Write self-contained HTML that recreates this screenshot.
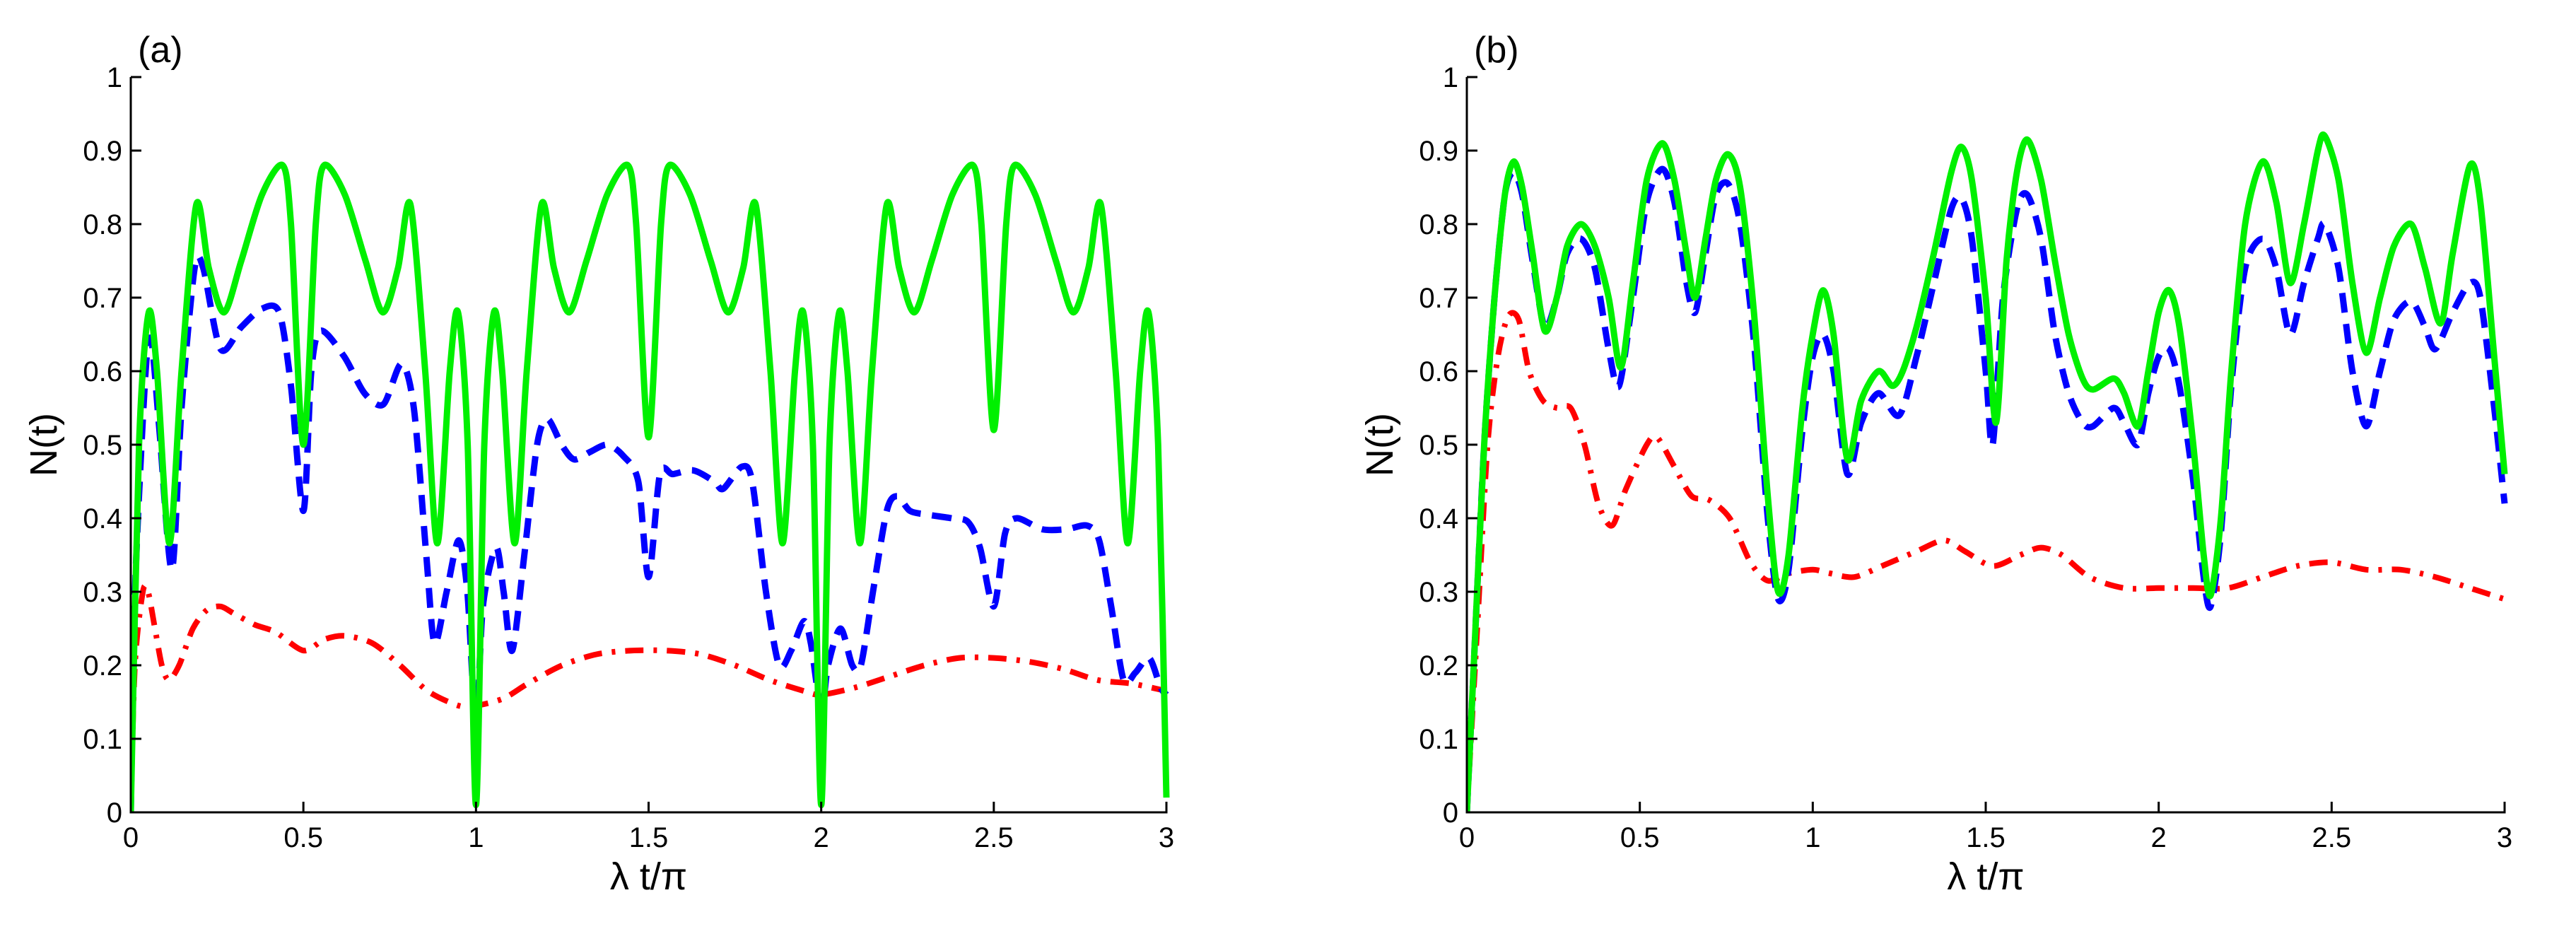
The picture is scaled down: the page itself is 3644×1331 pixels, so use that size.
<!DOCTYPE html>
<html><head><meta charset="utf-8"><style>
html,body{margin:0;padding:0;background:#fff;}
svg{display:block;font-family:"Liberation Sans",sans-serif;}
</style></head><body>
<svg id="fig" width="3644" height="1331" viewBox="0 0 3644 1331" xmlns="http://www.w3.org/2000/svg"></svg>
<script>
const xTicks=[0,0.5,1,1.5,2,2.5,3];
const xTickLabels=["0","0.5","1","1.5","2","2.5","3"];
const yTicks=[0,0.1,0.2,0.3,0.4,0.5,0.6,0.7,0.8,0.9,1];
const yTickLabels=["0","0.1","0.2","0.3","0.4","0.5","0.6","0.7","0.8","0.9","1"];

const aGreenT=[0,0.024,0.052,0.076,0.112,0.147,0.19,0.226,0.27,0.32,0.38,0.44,0.464,0.5,0.536,0.56,0.62,0.68,0.73,0.774,0.81,0.853,0.888,0.924,0.948,0.976,1.0,1.024,1.052,1.076,1.112,1.147,1.19,1.226,1.27,1.32,1.38,1.44,1.464,1.5,1.536,1.56,1.62,1.68,1.73,1.774,1.81,1.853,1.888,1.924,1.948,1.976,2.0,2.024,2.052,2.076,2.112,2.147,2.19,2.226,2.27,2.32,2.38,2.44,2.464,2.5,2.536,2.56,2.62,2.68,2.73,2.774,2.81,2.853,2.888,2.924,2.948,2.976,3.0];
const aGreenN=[0,0.5,0.68,0.6,0.366,0.6,0.827,0.74,0.68,0.75,0.84,0.88,0.8,0.5,0.8,0.88,0.84,0.75,0.68,0.74,0.827,0.6,0.366,0.6,0.68,0.5,0.01,0.5,0.68,0.6,0.366,0.6,0.827,0.74,0.68,0.75,0.84,0.88,0.8,0.51,0.8,0.88,0.84,0.75,0.68,0.74,0.827,0.6,0.366,0.6,0.68,0.5,0.01,0.5,0.68,0.6,0.366,0.6,0.827,0.74,0.68,0.75,0.84,0.88,0.8,0.52,0.8,0.88,0.84,0.75,0.68,0.74,0.827,0.6,0.366,0.6,0.68,0.5,0.02];

const aBlueT=[0,0.012,0.043,0.06,0.083,0.119,0.147,0.185,0.21,0.26,0.32,0.38,0.43,0.464,0.5,0.523,0.55,0.618,0.677,0.732,0.784,0.82,0.856,0.88,0.915,0.95,0.975,1.0,1.02,1.058,1.08,1.105,1.14,1.177,1.207,1.248,1.284,1.33,1.38,1.426,1.47,1.5,1.533,1.57,1.63,1.69,1.716,1.77,1.8,1.84,1.878,1.913,1.95,1.97,2.0,2.02,2.056,2.09,2.115,2.15,2.19,2.22,2.257,2.306,2.377,2.425,2.46,2.5,2.533,2.567,2.64,2.71,2.77,2.805,2.84,2.876,2.91,2.95,2.983,3.0];
const aBlueN=[0,0.3,0.6,0.64,0.52,0.33,0.55,0.74,0.74,0.63,0.66,0.685,0.68,0.58,0.41,0.6,0.655,0.62,0.57,0.555,0.61,0.55,0.35,0.23,0.3,0.37,0.3,0.12,0.28,0.36,0.3,0.22,0.35,0.5,0.535,0.5,0.48,0.49,0.5,0.485,0.45,0.32,0.46,0.46,0.465,0.45,0.44,0.47,0.45,0.3,0.2,0.22,0.26,0.23,0.14,0.2,0.25,0.2,0.2,0.3,0.41,0.43,0.41,0.405,0.4,0.395,0.36,0.28,0.38,0.4,0.385,0.385,0.39,0.37,0.28,0.18,0.19,0.21,0.17,0.16];

const aRedT=[0,0.012,0.035,0.05,0.07,0.09,0.11,0.14,0.18,0.22,0.26,0.3,0.36,0.42,0.5,0.56,0.62,0.7,0.78,0.86,0.95,1.0,1.08,1.15,1.25,1.35,1.45,1.55,1.65,1.75,1.85,1.95,2.0,2.1,2.2,2.3,2.4,2.5,2.6,2.7,2.8,2.9,3.0];
const aRedN=[0,0.2,0.3,0.3,0.25,0.2,0.18,0.2,0.25,0.275,0.28,0.27,0.255,0.245,0.22,0.235,0.24,0.23,0.2,0.165,0.145,0.145,0.155,0.175,0.2,0.215,0.22,0.22,0.215,0.2,0.18,0.165,0.16,0.17,0.185,0.2,0.21,0.21,0.205,0.195,0.18,0.175,0.165];

const bGreenT=[0,0.02,0.05,0.08,0.11,0.135,0.16,0.19,0.225,0.26,0.29,0.33,0.37,0.41,0.445,0.48,0.52,0.565,0.6,0.635,0.66,0.69,0.72,0.755,0.79,0.83,0.87,0.9,0.93,0.97,1.0,1.03,1.06,1.1,1.14,1.19,1.23,1.26,1.3,1.35,1.4,1.43,1.46,1.5,1.53,1.56,1.59,1.62,1.66,1.7,1.74,1.78,1.81,1.87,1.9,1.94,1.97,2.0,2.03,2.06,2.1,2.13,2.15,2.18,2.21,2.25,2.3,2.34,2.38,2.42,2.46,2.48,2.52,2.56,2.6,2.64,2.68,2.73,2.77,2.815,2.85,2.9,2.93,2.97,3.0];
const bGreenN=[0,0.2,0.5,0.7,0.84,0.885,0.85,0.76,0.655,0.7,0.77,0.8,0.77,0.7,0.605,0.72,0.86,0.91,0.86,0.76,0.7,0.78,0.86,0.895,0.85,0.68,0.43,0.3,0.35,0.55,0.65,0.71,0.65,0.48,0.56,0.6,0.58,0.6,0.66,0.76,0.87,0.905,0.86,0.7,0.53,0.75,0.87,0.915,0.86,0.75,0.65,0.59,0.575,0.59,0.57,0.525,0.6,0.68,0.71,0.66,0.5,0.35,0.295,0.4,0.6,0.8,0.885,0.83,0.72,0.8,0.9,0.92,0.86,0.72,0.625,0.7,0.77,0.8,0.74,0.665,0.76,0.88,0.83,0.62,0.46];

const bBlueT=[0,0.02,0.05,0.08,0.11,0.135,0.16,0.19,0.225,0.26,0.29,0.33,0.37,0.41,0.44,0.48,0.52,0.565,0.6,0.635,0.66,0.69,0.72,0.755,0.79,0.83,0.87,0.9,0.93,0.97,1.0,1.03,1.06,1.1,1.14,1.19,1.25,1.3,1.35,1.4,1.43,1.46,1.5,1.52,1.55,1.59,1.62,1.66,1.7,1.74,1.78,1.81,1.87,1.9,1.94,1.97,2.0,2.03,2.06,2.1,2.13,2.15,2.18,2.21,2.25,2.3,2.34,2.38,2.42,2.46,2.48,2.52,2.56,2.6,2.64,2.68,2.73,2.77,2.8,2.85,2.9,2.93,2.97,3.0];
const bBlueN=[0,0.2,0.5,0.7,0.84,0.87,0.84,0.75,0.66,0.7,0.76,0.78,0.74,0.63,0.58,0.7,0.83,0.875,0.83,0.72,0.68,0.76,0.84,0.855,0.8,0.64,0.4,0.29,0.33,0.52,0.62,0.65,0.6,0.46,0.53,0.57,0.54,0.62,0.72,0.82,0.835,0.78,0.6,0.5,0.7,0.82,0.84,0.78,0.65,0.57,0.53,0.525,0.55,0.53,0.5,0.57,0.62,0.63,0.58,0.45,0.32,0.28,0.38,0.58,0.74,0.78,0.74,0.65,0.72,0.78,0.8,0.74,0.6,0.525,0.6,0.67,0.695,0.66,0.63,0.68,0.72,0.7,0.55,0.42];

const bRedT=[0,0.03,0.06,0.09,0.12,0.15,0.18,0.22,0.26,0.3,0.34,0.38,0.42,0.46,0.52,0.55,0.6,0.65,0.7,0.76,0.82,0.87,0.93,1.0,1.05,1.12,1.2,1.3,1.38,1.44,1.52,1.6,1.66,1.72,1.8,1.9,2.0,2.1,2.2,2.3,2.4,2.5,2.6,2.7,2.8,2.9,3.0];
const bRedN=[0,0.25,0.5,0.62,0.675,0.67,0.6,0.56,0.55,0.55,0.5,0.42,0.39,0.44,0.5,0.51,0.47,0.43,0.425,0.4,0.34,0.315,0.325,0.33,0.325,0.32,0.335,0.355,0.37,0.355,0.335,0.35,0.36,0.35,0.32,0.305,0.305,0.305,0.305,0.32,0.335,0.34,0.33,0.33,0.32,0.305,0.29];

const NS="http://www.w3.org/2000/svg";
const svg=document.getElementById('fig');
function mk(tag,attrs,parent){const e=document.createElementNS(NS,tag);for(const k in attrs)e.setAttribute(k,attrs[k]);(parent||svg).appendChild(e);return e;}
function smooth(pts){
 let d='M'+pts[0][0].toFixed(1)+','+pts[0][1].toFixed(1);
 for(let i=0;i<pts.length-1;i++){
  const p0=pts[Math.max(0,i-1)],p1=pts[i],p2=pts[i+1],p3=pts[Math.min(pts.length-1,i+2)];
  const k=1/7;
  const c1=[p1[0]+(p2[0]-p0[0])*k,p1[1]+(p2[1]-p0[1])*k];
  const c2=[p2[0]-(p3[0]-p1[0])*k,p2[1]-(p3[1]-p1[1])*k];
  d+='C'+c1[0].toFixed(1)+','+c1[1].toFixed(1)+' '+c2[0].toFixed(1)+','+c2[1].toFixed(1)+' '+p2[0].toFixed(1)+','+p2[1].toFixed(1);
 }
 return d;
}

const panels=[
 {id:'a',x0:185,x1:1650,label:'(a)',series:[[aRedT,aRedN,'red'],[aBlueT,aBlueN,'blue'],[aGreenT,aGreenN,'green']]},
 {id:'b',x0:2075,x1:3543,label:'(b)',series:[[bRedT,bRedN,'red'],[bBlueT,bBlueN,'blue'],[bGreenT,bGreenN,'green']]}
];
const yTop=109,yBot=1149;
const styles={
 red:{stroke:'#ff0000',w:8,dash:'26 14 5 14'},
 blue:{stroke:'#0000ff',w:9,dash:'28 16'},
 green:{stroke:'#00f000',w:9,dash:''}
};
panels.forEach(p=>{
 const sx=t=>p.x0+(p.x1-p.x0)*t/3;
 const sy=v=>yBot-(yBot-yTop)*v;
 const g=mk('g',{});
 
 
 const cp=mk('clipPath',{id:'clip'+p.id},g);
 mk('rect',{x:p.x0,y:yTop-10,width:p.x1-p.x0+5,height:yBot-yTop+12},cp);
 const sg=mk('g',{'clip-path':'url(#clip'+p.id+')'},g);
 p.series.forEach(s=>{
  const st=styles[s[2]];
  const pts=s[0].map((t,i)=>[sx(t),sy(s[1][i])]);
  const path=mk('path',{d:smooth(pts),fill:'none',stroke:st.stroke,'stroke-width':st.w,'stroke-linejoin':'round','stroke-dasharray':st.dash},sg);
  
  
 });
 const ax=mk('path',{d:`M${p.x0},${yTop}L${p.x0},${yBot}L${p.x1},${yBot}L${p.x1},${yBot-15}`,fill:'none',stroke:'#000','stroke-width':3},g);
 
 
 yTicks.forEach((v,i)=>{
  mk('line',{x1:p.x0,x2:p.x0+15,y1:sy(v),y2:sy(v),stroke:'#000','stroke-width':3},g);
  const tx=mk('text',{x:p.x0-12,y:sy(v)+14,'text-anchor':'end','font-size':40,fill:'#000'},g);
  tx.textContent=yTickLabels[i];
  
  
 });
 xTicks.forEach((v,i)=>{
  mk('line',{x1:sx(v),x2:sx(v),y1:yBot,y2:yBot-15,stroke:'#000','stroke-width':3},g);
  const tx=mk('text',{x:sx(v),y:yBot+49,'text-anchor':'middle','font-size':40,fill:'#000'},g);
  tx.textContent=xTickLabels[i];
  
  
 });
 const xt=mk('text',{x:(p.x0+p.x1)/2,y:1258,'text-anchor':'middle','font-size':54,fill:'#000'},g);
 xt.textContent='λ t/π';
 
 
 const yt=mk('text',{x:0,y:0,'text-anchor':'middle','font-size':54,fill:'#000',transform:`translate(${p.x0-105},${(yTop+yBot)/2}) rotate(-90)`},g);
 yt.textContent='N(t)';
 
 
 const lb=mk('text',{x:p.x0+10,y:88,'font-size':52,fill:'#000'},g);
 lb.textContent=p.label;
 
 
});
</script>
</body></html>
